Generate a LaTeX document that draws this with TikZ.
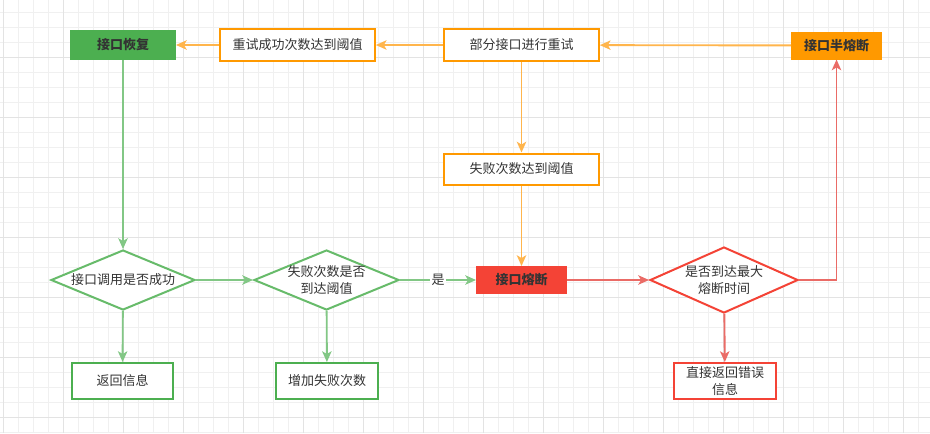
\documentclass[tikz,border=0pt]{standalone}
\usepackage{fontspec}
\newfontfamily\cjk{Noto Sans CJK SC}
\usetikzlibrary{shapes.geometric,arrows.meta}
\definecolor{verde}{HTML}{4CAF50}
\definecolor{verdelinea}{HTML}{82C785}
\definecolor{arancio}{HTML}{FF9900}
\definecolor{aranciolinea}{HTML}{FFB54C}
\definecolor{rosso}{HTML}{F44336}
\definecolor{rossolinea}{HTML}{EA6B66}
\definecolor{testo}{HTML}{333333}
\tikzset{
  blocco/.style={draw, line width=1.5pt, fill=white, text=testo, inner sep=0pt,
    font=\cjk\fontsize{9.75}{12.5}\selectfont, align=center},
  rombo/.style={blocco, diamond, aspect=2.4, inner sep=-2pt},
  freccia/.style={line width=1.4pt, -{Stealth[length=8pt,width=7pt,inset=2pt]}}
}
\begin{document}
\begin{tikzpicture}[x=0.75pt,y=-0.75pt]
	\useasboundingbox (0,0) rectangle (930,433);
	\fill[white] (0,0) rectangle (930,433);
	% griglia
	\foreach \x in {3,18,...,918} \draw[black!6, line width=0.75pt] (\x,0) -- (\x,433);
	\foreach \y in {12,27,...,432} \draw[black!6, line width=0.75pt] (0,\y) -- (930,\y);
	\foreach \x in {3,63,...,903} \draw[black!11, line width=0.75pt] (\x,0) -- (\x,433);
	\foreach \y in {57,117,...,417} \draw[black!11, line width=0.75pt] (0,\y) -- (930,\y);
	% blocchi
	\node[blocco, draw=verde, fill=verde, font=\cjk\bfseries\fontsize{9.75}{12.5}\selectfont, minimum width=78pt, minimum height=21pt] (recupero) at (123,45) {接口恢复};
	\node[blocco, draw=arancio, minimum width=116pt, minimum height=24pt] (successo) at (297.5,45) {重试成功次数达到阈值};
	\node[blocco, draw=arancio, minimum width=116pt, minimum height=24pt] (riprova) at (521.5,45) {部分接口进行重试};
	\node[blocco, draw=arancio, fill=arancio, font=\cjk\bfseries\fontsize{9.75}{12.5}\selectfont, minimum width=66.75pt, minimum height=19.5pt] (semi) at (836.5,45.5) {接口半熔断};
	\node[blocco, draw=arancio, minimum width=116pt, minimum height=23.25pt] (soglia) at (521.5,169) {失败次数达到阈值};
	\node[rombo, draw=verde!85!white, minimum width=108pt, minimum height=45pt] (chiamata) at (123,280) {接口调用是否成功};
	\node[rombo, draw=verde!85!white, minimum width=108.75pt, minimum height=45pt] (fallimenti) at (326.5,280) {失败次数是否\\到达阈值};
	\node[blocco, draw=rosso, fill=rosso, font=\cjk\bfseries\fontsize{9.75}{12.5}\selectfont, minimum width=66.75pt, minimum height=19.5pt] (fusione) at (521.5,280) {接口熔断};
	\node[rombo, draw=rosso, minimum width=111pt, minimum height=49.5pt] (tempo) at (724,280) {是否到达最大\\熔断时间};
	\node[blocco, draw=verde, minimum width=75.75pt, minimum height=27pt] (ritorno) at (122.5,381) {返回信息};
	\node[blocco, draw=verde, minimum width=76.5pt, minimum height=27pt] (aumento) at (327,381) {增加失败次数};
	\node[blocco, draw=rosso, minimum width=76.5pt, minimum height=27pt] (errore) at (725,381) {直接返回错误\\信息};
	% frecce
	\draw[freccia, aranciolinea] (semi) -- (riprova);
	\draw[freccia, aranciolinea] (riprova) -- (successo);
	\draw[freccia, aranciolinea] (successo) -- (recupero);
	\draw[freccia, aranciolinea] (riprova) -- (soglia);
	\draw[freccia, aranciolinea] (soglia) -- (fusione);
	\draw[freccia, verdelinea] (recupero) -- (chiamata);
	\draw[freccia, verdelinea] (chiamata) -- (fallimenti);
	\draw[freccia, verdelinea] (chiamata) -- (ritorno);
	\draw[freccia, verdelinea] (fallimenti) -- node[fill=white, text=testo, inner sep=1pt, font=\cjk\fontsize{9.75}{12.5}\selectfont] (si) {是} (fusione);
	\draw[freccia, verdelinea] (fallimenti) -- (aumento);
	\draw[freccia, rossolinea] (fusione) -- (tempo);
	\draw[freccia, rossolinea] (tempo.east) -| (semi.south);
	\draw[freccia, rossolinea] (tempo) -- (errore);
\end{tikzpicture}
\end{document}
